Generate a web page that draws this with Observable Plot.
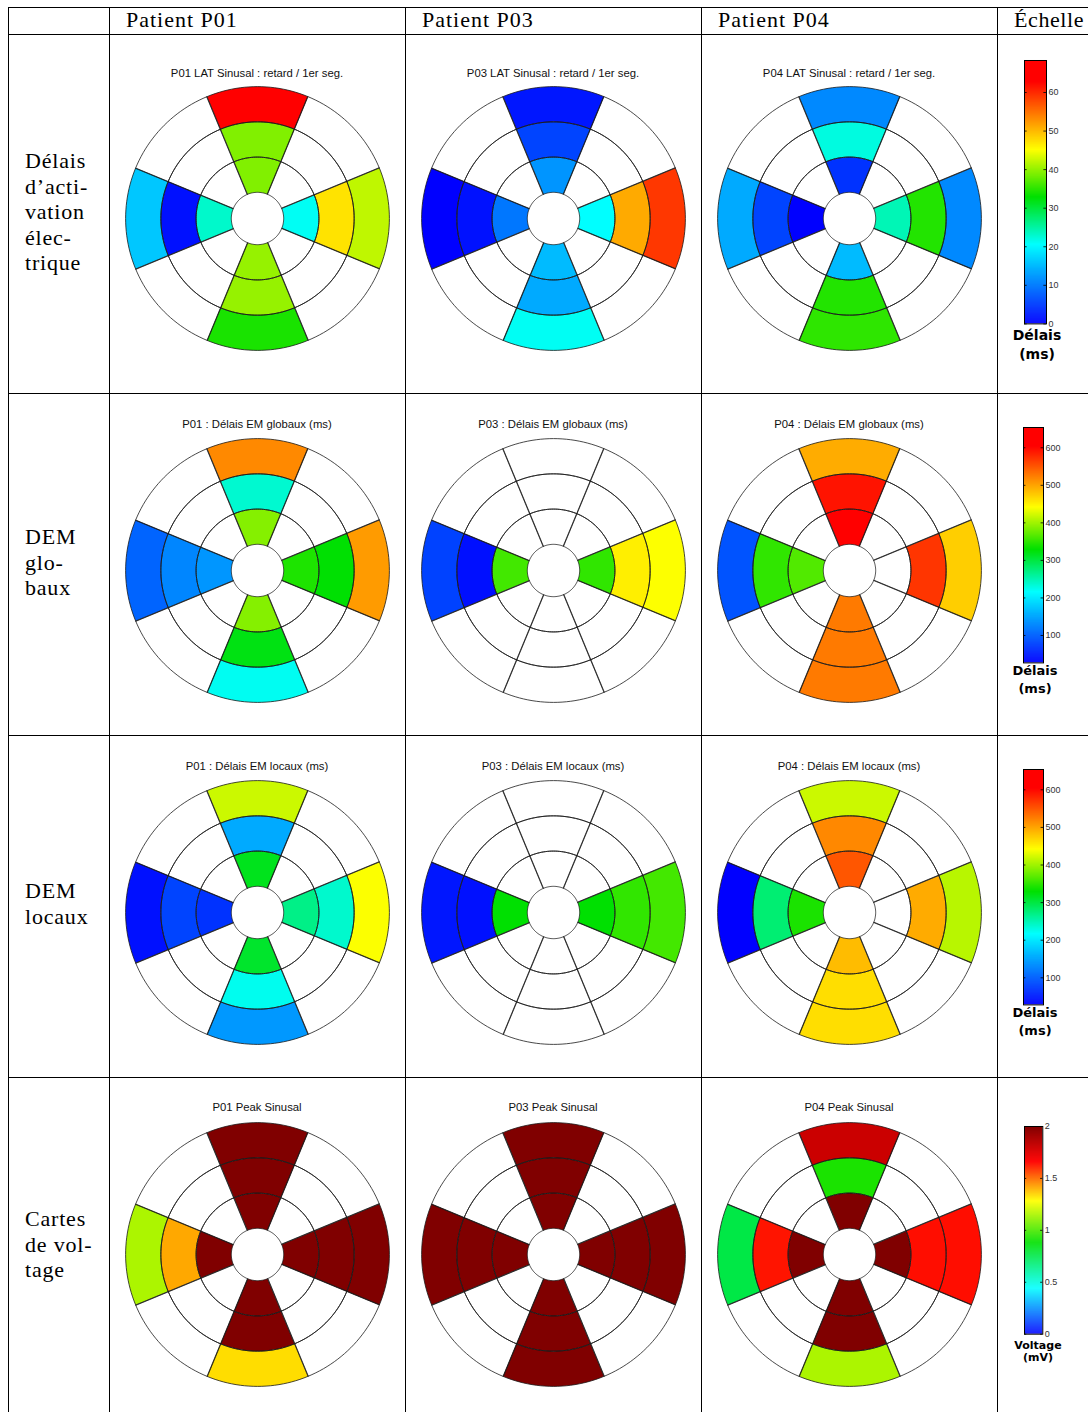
<!DOCTYPE html>
<html><head><meta charset="utf-8">
<script src="https://cdn.jsdelivr.net/npm/d3@7"></script>
<script src="https://cdn.jsdelivr.net/npm/@observablehq/plot@0.6"></script>
<style>
body{margin:0;width:1088px;height:1412px;overflow:hidden;background:#fff;position:relative;}
.hl{position:absolute;height:1px;background:#000;}
.vl{position:absolute;width:1px;background:#000;}
.hdr{position:absolute;font-family:"Liberation Serif",serif;font-size:22px;line-height:22px;letter-spacing:1px;color:#000;white-space:nowrap}
.rowlab{position:absolute;left:25px;font-family:"Liberation Serif",serif;font-size:22px;line-height:25.5px;letter-spacing:0.8px;color:#000;white-space:nowrap}
.ttl{position:absolute;width:296px;text-align:center;font-family:"Liberation Sans",Arial,sans-serif;font-size:11.3px;line-height:14px;color:#111;white-space:nowrap}
.abs{position:absolute}
.cblab{position:absolute;font-family:"DejaVu Sans",sans-serif;font-weight:bold;text-align:center;width:80px;color:#000;white-space:nowrap}
</style></head><body>
<script>
// ---------------- DATA ----------------
const patients = ["Patient P01", "Patient P03", "Patient P04"];
const scaleHeader = "Échelle";
const rowLabels = [
  ["Délais", "d’acti-", "vation", "élec-", "trique"],
  ["DEM", "glo-", "baux"],
  ["DEM", "locaux"],
  ["Cartes", "de vol-", "tage"]
];
// sectors: N, E, S, W ; each = [inner, mid, outer]
const sectorNames = ["N", "E", "S", "W"];
const ringNames = ["inner", "mid", "outer"];

const latTitles = ["P01 LAT Sinusal : retard / 1er seg.", "P03 LAT Sinusal : retard / 1er seg.", "P04 LAT Sinusal : retard / 1er seg."];
const lat_P01 = [[39, 39, 65], [21, 47, 42], [40, 40, 34], [23, 1.3, 16]];
const lat_P03 = [[12, 5.5, 1.8], [20.5, 51, 59], [15, 13.7, 21], [9.6, 1.4, 0]];
const lat_P04 = [[4, 22, 11], [24, 34.4, 11], [15, 34.4, 35], [0, 5.5, 13.7]];

const demGTitles = ["P01 : Délais EM globaux (ms)", "P03 : Délais EM globaux (ms)", "P04 : Délais EM globaux (ms)"];
const demG_P01 = [[387, 236, 516], [341, 327, 505], [387, 320, 221], [138, 126, 101]];
const demG_P03 = [[null, null, null], [349, 451, 440], [null, null, null], [357, 38, 76]];
const demG_P04 = [[630, 592, 494], [null, 570, 472], [526, 526, 526], [364, 349, 88]];

const demLTitles = ["P01 : Délais EM locaux (ms)", "P03 : Délais EM locaux (ms)", "P04 : Délais EM locaux (ms)"];
const demL_P01 = [[316, 153, 418], [269, 238, 440], [309, 223, 140], [65, 78, 40]];
const demL_P03 = [[null, null, null], [328, 350, 358], [null, null, null], [328, 40, 44]];
const demL_P04 = [[549, 517, 418], [null, 495, 410], [484, 462, 462], [340, 278, 28]];

const voltTitles = ["P01 Peak Sinusal", "P03 Peak Sinusal", "P04 Peak Sinusal"];
const volt_P01 = [[2, 2, 2], [2, 2, 2], [2, 2, 1.33], [2, 1.41, 1.15]];
const volt_P03 = [[2, 2, 2], [2, 2, 2], [2, 2, 2], [2, 2, 2]];
const volt_P04 = [[2, 0.92, 1.8], [2, 1.64, 1.64], [2, 2, 1.15], [2, 1.63, 0.76]];

// colour scales
const latDomain = [0, 68.3];
const demGDomain = [27, 654];
const demLDomain = [28, 654];
const voltDomain = [0, 2];
const latTicks = [0, 10, 20, 30, 40, 50, 60];
const demTicks = [100, 200, 300, 400, 500, 600];
const voltTicks = [0, 0.5, 1, 1.5, 2];
const delayStops = [0, 0.3, 0.48, 0.66, 0.92, 1];
const delayColors = ["#0000ff", "#00ffff", "#00e000", "#ffff00", "#ff0000", "#ff0000"];
const voltStops = [0, 0.22, 0.44, 0.64, 0.83, 1];
const voltColors = ["#0000ff", "#00ffff", "#00e000", "#ffff00", "#ff0000", "#800000"];
const cbLabels = [["Délais", "(ms)"], ["Délais", "(ms)"], ["Délais", "(ms)"], ["Voltage", "(mV)"]];

// ---------------- LAYOUT ----------------
const colX = [109, 405, 701, 997];
const rowY = [34, 393, 735, 1077];
const colCenters = [257, 553, 849];
const rowCenters = [218.3, 570, 912.3, 1253.5];
const titleY = [73, 424, 766, 1107];
const cbGeom = [
  {x: 1024, w: 22, top: 60, bottom: 323.4},
  {x: 1023.3, w: 20, top: 427.3, bottom: 662.7},
  {x: 1023.3, w: 20, top: 769.3, bottom: 1004.7},
  {x: 1024, w: 18.3, top: 1126, bottom: 1333.7}
];
const cbLabelPos = [
  {cx: 1037, y1: 334.5, y2: 353.5, fs: 14, lh: 16},
  {cx: 1035, y1: 670.5, y2: 688, fs: 13, lh: 15},
  {cx: 1035, y1: 1012.5, y2: 1030, fs: 13, lh: 15},
  {cx: 1038, y1: 1345.5, y2: 1357.5, fs: 11, lh: 10}
];

function add(el) { document.body.appendChild(el); return el; }
function div(cls, style, text) {
  const d = document.createElement("div");
  d.className = cls;
  Object.assign(d.style, style);
  if (text != null) d.textContent = text;
  return add(d);
}

// table lines
div("hl", {left: "8px", top: "7px", width: "1090px"});
for (const y of rowY) div("hl", {left: "8px", top: y + "px", width: "1090px"});
for (const x of [8, ...colX]) div("vl", {left: x + "px", top: "7px", height: "1410px"});

// headers
patients.forEach((p, i) => div("hdr", {left: (colX[i] + 17) + "px", top: "8.5px"}, p));
div("hdr", {left: (colX[3] + 17) + "px", top: "8.5px", letterSpacing: "0.6px"}, scaleHeader);

// row labels
const rowLabelTop = [148, 524, 878, 1206];
rowLabels.forEach((lines, i) => {
  const d = div("rowlab", {top: rowLabelTop[i] + "px"});
  d.innerHTML = lines.join("<br>");
});

// colour maps
const delayMap = d3.scaleLinear().domain(delayStops).range(delayColors).interpolate(d3.interpolateRgb).clamp(true);
const voltMap = d3.scaleLinear().domain(voltStops).range(voltColors).interpolate(d3.interpolateRgb).clamp(true);
function colorOpts(domain, map) {
  return {type: "linear", domain, interpolate: (t) => map(t), clamp: true};
}

// ---------------- POLAR CHART ----------------
const HOLE = 26 / 35; // hole radius, in ring-width units
function cellPoints(s8, ring, id, v) {
  const a0 = (s8 * 45 - 22.5) * Math.PI / 180, a1 = (s8 * 45 + 22.5) * Math.PI / 180;
  const r0 = HOLE + ring, r1 = HOLE + ring + 1;
  const n = 24, pts = [];
  for (let k = 0; k <= n; k++) { const a = a0 + (a1 - a0) * k / n; pts.push({id, v, x: r1 * Math.sin(a), y: r1 * Math.cos(a)}); }
  for (let k = n; k >= 0; k--) { const a = a0 + (a1 - a0) * k / n; pts.push({id, v, x: r0 * Math.sin(a), y: r0 * Math.cos(a)}); }
  return pts;
}
function polar(values, copts) {
  const filled = [], outline = [];
  for (let s8 = 0; s8 < 8; s8++) {
    for (let ring = 0; ring < 3; ring++) {
      const id = s8 + "-" + ring;
      outline.push(...cellPoints(s8, ring, id, 0));
      if (s8 % 2 === 0) {
        const v = values[s8 / 2][ring];
        if (v != null) filled.push(...cellPoints(s8, ring, id, v));
      }
    }
  }
  return Plot.plot({
    width: 296, height: 296, margin: 0,
    x: {domain: [-4.2, 4.2], axis: null},
    y: {domain: [-4.2, 4.2], axis: null},
    color: copts,
    style: {background: "transparent"},
    marks: [
      Plot.line(filled, {x: "x", y: "y", z: "id", fill: "v", stroke: "none", curve: "linear-closed"}),
      Plot.line(outline, {x: "x", y: "y", z: "id", fill: "none", stroke: "#1a1a1a", strokeWidth: 0.8, curve: "linear-closed"})
    ]
  });
}

// ---------------- COLOURBAR ----------------
function colorbar(domain, ticks, copts, g) {
  const h = g.bottom - g.top;
  const n = Math.round(h);
  const steps = d3.range(n).map((i) => ({
    y1: domain[0] + (domain[1] - domain[0]) * i / n,
    y2: domain[0] + (domain[1] - domain[0]) * Math.min(n, i + 1.3) / n,
    v: domain[0] + (domain[1] - domain[0]) * (i + 0.5) / n
  }));
  return Plot.plot({
    width: g.w + 26, height: h + 12,
    marginLeft: 0, marginRight: 26, marginTop: 6, marginBottom: 6,
    x: {domain: [0, 1], axis: null},
    y: {domain, axis: null},
    color: copts,
    style: {fontFamily: "Liberation Sans, Arial, sans-serif", background: "transparent", overflow: "visible"},
    marks: [
      Plot.rect(steps, {x1: 0, x2: 1, y1: "y1", y2: "y2", fill: "v"}),
      Plot.frame({stroke: "#000", strokeWidth: 1}),
      Plot.ruleY(ticks, {x1: 0, x2: 0.12, stroke: "#000", strokeWidth: 0.8}),
      Plot.ruleY(ticks, {x1: 0.88, x2: 1, stroke: "#000", strokeWidth: 0.8}),
      Plot.text(ticks, {x: 1, y: (d) => d, dx: 2, textAnchor: "start", text: (d) => String(d), fontSize: 9, fill: "#333"})
    ]
  });
}

// ---------------- BUILD ----------------
const rows = [
  {titles: latTitles, data: [lat_P01, lat_P03, lat_P04], copts: colorOpts(latDomain, delayMap), domain: latDomain, ticks: latTicks},
  {titles: demGTitles, data: [demG_P01, demG_P03, demG_P04], copts: colorOpts(demGDomain, delayMap), domain: demGDomain, ticks: demTicks},
  {titles: demLTitles, data: [demL_P01, demL_P03, demL_P04], copts: colorOpts(demLDomain, delayMap), domain: demLDomain, ticks: demTicks},
  {titles: voltTitles, data: [volt_P01, volt_P03, volt_P04], copts: colorOpts(voltDomain, voltMap), domain: voltDomain, ticks: voltTicks}
];

rows.forEach((row, r) => {
  row.data.forEach((vals, c) => {
    const svg = polar(vals, row.copts);
    const holder = div("abs", {left: (colCenters[c] - 148) + "px", top: (rowCenters[r] - 148) + "px", width: "296px", height: "296px"});
    holder.appendChild(svg);
    div("ttl", {left: (colCenters[c] - 148) + "px", top: (titleY[r] - 7) + "px"}, row.titles[c]);
  });
  const g = cbGeom[r];
  const cb = colorbar(row.domain, row.ticks, row.copts, g);
  const h = div("abs", {left: g.x + "px", top: (g.top - 6) + "px"});
  h.appendChild(cb);
  const lp = cbLabelPos[r];
  div("cblab", {left: (lp.cx - 40) + "px", top: (lp.y1 - lp.lh / 2) + "px", fontSize: lp.fs + "px", lineHeight: lp.lh + "px"}, cbLabels[r][0]);
  div("cblab", {left: (lp.cx - 40) + "px", top: (lp.y2 - lp.lh / 2) + "px", fontSize: lp.fs + "px", lineHeight: lp.lh + "px"}, cbLabels[r][1]);
});
</script>
</body></html>
